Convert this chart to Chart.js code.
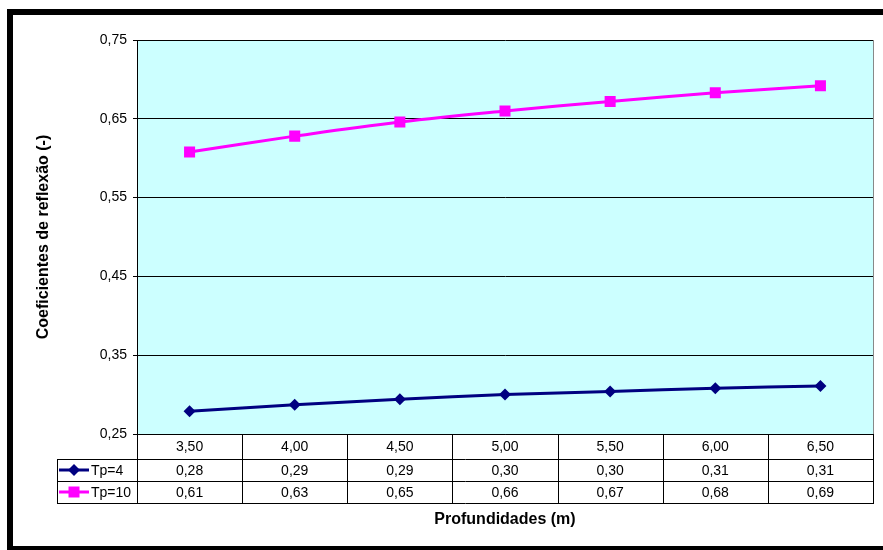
<!DOCTYPE html>
<html>
<head>
<meta charset="utf-8">
<script src="https://cdn.jsdelivr.net/npm/chart.js@4/dist/chart.umd.min.js"></script>
<style>
  html, body { margin: 0; padding: 0; background: #fff; }
  canvas { display: block; }
</style>
</head>
<body>
<canvas id="c" width="883" height="550"></canvas>
<script>
// Depths (m) along the x axis
const categories = ['3,50', '4,00', '4,50', '5,00', '5,50', '6,00', '6,50'];
// Reflection coefficients for each peak period
const tp4Label = 'Tp=4';
const tp4 = [0.279, 0.287, 0.294, 0.300, 0.304, 0.308, 0.311];
const tp10Label = 'Tp=10';
const tp10 = [0.608, 0.628, 0.646, 0.660, 0.672, 0.683, 0.692];
// Value axis range and step
const yMin = 0.25, yMax = 0.75, yStep = 0.1;

const FONT = '"Liberation Sans", Arial, Helvetica, sans-serif';
const NAVY = '#000080';
const MAGENTA = '#FF00FF';
const fmt = v => v.toFixed(2).replace('.', ',');

// Background, data table, axis titles and outer frame
const decor = {
  id: 'decor',
  beforeDraw(chart) {
    const { ctx, chartArea: a } = chart;
    ctx.save();
    ctx.fillStyle = '#fff';
    ctx.fillRect(0, 0, chart.width, chart.height);
    ctx.fillStyle = '#CCFFFF';
    ctx.fillRect(a.left, a.top, a.right - a.left, a.bottom - a.top);
    ctx.restore();
  },
  afterDraw(chart) {
    const { ctx, chartArea: a } = chart;
    const xs = chart.scales.x;
    const n = categories.length;
    const colW = (a.right - a.left) / n;
    const r0 = a.bottom, r1 = a.bottom + 25, r2 = a.bottom + 47, r3 = a.bottom + 69;
    const legL = 57;
    const px = v => Math.round(v) + 0.5;

    ctx.save();
    // plot area right border
    ctx.strokeStyle = '#888';
    ctx.lineWidth = 1;
    ctx.beginPath();
    ctx.moveTo(px(a.right), a.top);
    ctx.lineTo(px(a.right), a.bottom);
    ctx.stroke();

    // table grid
    ctx.strokeStyle = '#000';
    ctx.beginPath();
    ctx.moveTo(a.left, px(r0)); ctx.lineTo(a.right + 1, px(r0));
    [r1, r2, r3].forEach(y => { ctx.moveTo(legL, px(y)); ctx.lineTo(a.right + 1, px(y)); });
    for (let k = 0; k <= n; k++) {
      const x = px(a.left + k * colW);
      ctx.moveTo(x, r0); ctx.lineTo(x, px(r3));
    }
    ctx.moveTo(px(legL), px(r1)); ctx.lineTo(px(legL), px(r3));
    ctx.stroke();

    // table values
    ctx.fillStyle = '#000';
    ctx.font = '14px ' + FONT;
    ctx.textAlign = 'center';
    ctx.textBaseline = 'middle';
    const rows = [[tp4, (r1 + r2) / 2 + 1], [tp10, (r2 + r3) / 2 + 1]];
    rows.forEach(([vals, y]) => {
      vals.forEach((v, i) => ctx.fillText(fmt(v), xs.getPixelForValue(i), y));
    });

    // legend keys in the table
    const keys = [
      { label: tp4Label, color: NAVY, y: (r1 + r2) / 2, shape: 'diamond' },
      { label: tp10Label, color: MAGENTA, y: (r2 + r3) / 2, shape: 'square' }
    ];
    keys.forEach(k => {
      ctx.strokeStyle = k.color;
      ctx.lineWidth = 3;
      ctx.beginPath();
      ctx.moveTo(59, k.y); ctx.lineTo(89, k.y);
      ctx.stroke();
      ctx.fillStyle = k.color;
      ctx.beginPath();
      if (k.shape === 'diamond') {
        ctx.moveTo(74, k.y - 6); ctx.lineTo(80, k.y); ctx.lineTo(74, k.y + 6); ctx.lineTo(68, k.y);
        ctx.closePath();
      } else {
        ctx.rect(68.5, k.y - 5.5, 11, 11);
      }
      ctx.fill();
      ctx.fillStyle = '#000';
      ctx.font = '14px ' + FONT;
      ctx.textAlign = 'left';
      ctx.textBaseline = 'middle';
      ctx.fillText(k.label, 91, k.y + 1);
    });

    // axis titles
    ctx.fillStyle = '#000';
    ctx.font = 'bold 16px ' + FONT;
    ctx.textAlign = 'center';
    ctx.textBaseline = 'alphabetic';
    ctx.fillText('Profundidades (m)', (a.left + a.right) / 2, 523.5);
    ctx.save();
    ctx.translate(47.5, (a.top + a.bottom) / 2);
    ctx.rotate(-Math.PI / 2);
    ctx.fillText('Coeficientes de reflexão (-)', 0, 0);
    ctx.restore();

    // outer frame
    ctx.fillStyle = '#000';
    ctx.fillRect(7, 9, chart.width - 7, 6);
    ctx.fillRect(7, 9, 6, chart.height - 9);
    ctx.fillRect(7, 546, chart.width - 7, chart.height - 546);
    ctx.restore();
  }
};

new Chart(document.getElementById('c'), {
  type: 'line',
  data: {
    labels: categories,
    datasets: [
      {
        label: tp4Label,
        data: tp4,
        borderColor: NAVY,
        backgroundColor: NAVY,
        borderWidth: 3,
        pointStyle: 'rectRot',
        pointRadius: 6,
        pointBorderWidth: 0,
        tension: 0.4,
        fill: false
      },
      {
        label: tp10Label,
        data: tp10,
        borderColor: MAGENTA,
        backgroundColor: MAGENTA,
        borderWidth: 3,
        pointStyle: 'rect',
        pointRadius: 7.8,
        pointBorderWidth: 0,
        tension: 0.4,
        fill: false
      }
    ]
  },
  options: {
    responsive: false,
    animation: false,
    devicePixelRatio: 1,
    layout: { padding: { left: 0, top: 40, right: 10, bottom: 0 } },
    plugins: { legend: { display: false }, tooltip: { enabled: false } },
    scales: {
      x: {
        offset: true,
        grid: { display: false, drawTicks: false },
        border: { display: false },
        ticks: { color: '#000', font: { family: FONT, size: 14 }, padding: 5, maxRotation: 0, autoSkip: false },
        afterFit: s => { s.height = 116; }
      },
      y: {
        min: yMin,
        max: yMax,
        grid: { color: '#000', lineWidth: 1, drawTicks: true, tickLength: 4 },
        border: { display: true, color: '#000', width: 1 },
        ticks: {
          stepSize: yStep,
          color: '#000',
          font: { family: FONT, size: 14 },
          padding: 6,
          callback: v => fmt(v)
        },
        afterFit: s => { s.width = 137; }
      }
    }
  },
  plugins: [decor]
});
</script>
</body>
</html>
